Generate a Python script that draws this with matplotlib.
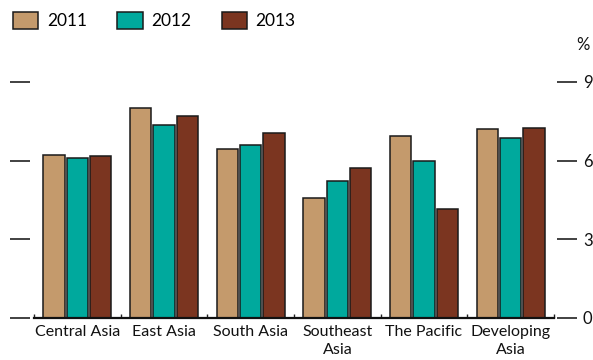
import matplotlib
matplotlib.use("Agg")
import matplotlib.pyplot as plt
import numpy as np
from matplotlib.patches import Patch

categories = ["Central Asia", "East Asia", "South Asia", "Southeast\nAsia", "The Pacific", "Developing\nAsia"]
years = ["2011", "2012", "2013"]
v2011 = [6.23, 8.02, 6.43, 4.59, 6.95, 7.20]
v2012 = [6.10, 7.36, 6.61, 5.22, 6.00, 6.88]
v2013 = [6.19, 7.70, 7.06, 5.73, 4.15, 7.26]
yticks = [0, 3, 6, 9]
colors = ["#C49A6C", "#00A99D", "#7B3520"]

plt.rcParams['font.family'] = ['Lato', 'DejaVu Sans']

W, H = 593, 360
fig = plt.figure(figsize=(W / 100, H / 100), dpi=100)
ax = fig.add_axes([10 / W, 1 - 318 / H, 567.3 / W, 236 / H])

x = np.arange(len(categories))
series = [v2011, v2012, v2013]
offs = [-0.27, 0.0, 0.27]
for vals, off, c in zip(series, offs, colors):
    ax.bar(x + off, vals, width=0.245, color=c, edgecolor="#1a1a1a", linewidth=1.1, zorder=3)

pitch = 86.7
ax.set_xlim(-0.5 - 24 / pitch, 5.5 + 23.3 / pitch)
ax.set_ylim(0, 9)

for s in ["left", "right", "top"]:
    ax.spines[s].set_visible(False)
ax.spines["bottom"].set_bounds(-0.5, 5.5)
ax.spines["bottom"].set_linewidth(1.6)
ax.spines["bottom"].set_color("#111111")
ax.spines["bottom"].set_zorder(4)

ax.set_yticks(yticks)
ax.set_yticklabels([str(t) for t in yticks])
ax.tick_params(axis="y", which="major", direction="in", length=14.4, width=1.3,
               color="#333333", left=True, right=True, labelleft=False, labelright=True,
               pad=4, labelsize=12, labelcolor="#111111")

ax.set_xticks(x)
ax.set_xticklabels(categories, fontsize=11.5, color="#111111", linespacing=1.4)
ax.tick_params(axis="x", which="major", length=0, pad=5)
ax.set_xticks(np.arange(-0.5, 6.0, 1.0), minor=True)
ax.tick_params(axis="x", which="minor", direction="in", length=3.2, width=1.0, color="#222222")

fig.text(590 / W, 1 - 45 / H, "%", fontsize=12, ha="right", va="center", color="#111111")

handles = [Patch(facecolor=c, edgecolor="#1a1a1a", linewidth=1.1) for c in colors]
fig.legend(handles, years, loc="upper left", bbox_to_anchor=(8 / W, 1 - 7 / H), ncol=3,
           frameon=False, fontsize=12.5, handlelength=1.45, handleheight=1.1,
           handletextpad=0.5, columnspacing=1.75, borderaxespad=0, borderpad=0.3)

fig.savefig("out.png", dpi=100)
